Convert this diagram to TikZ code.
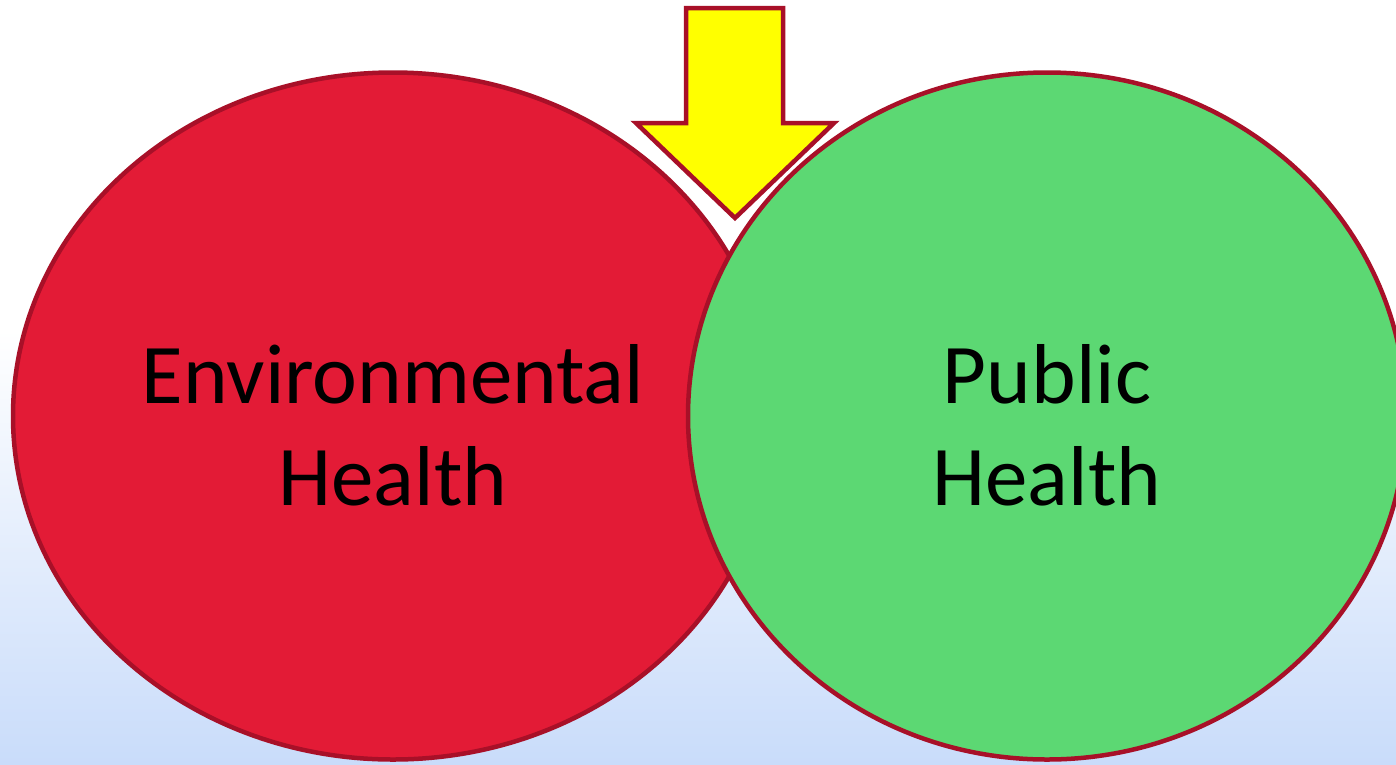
\documentclass[tikz,border=0pt]{standalone}
\usepackage{fontspec}
\setmainfont{Carlito}
\usetikzlibrary{shapes.geometric}
\definecolor{rimred}{RGB}{168,16,40}
\definecolor{envred}{RGB}{227,27,54}
\definecolor{pubgreen}{RGB}{92,216,115}
\definecolor{arrowyellow}{RGB}{255,255,0}
\definecolor{bgblue}{RGB}{201,220,250}
\tikzset{
  blob/.style={ellipse, draw=rimred, line width=4.5pt, inner sep=0pt},
  blobtext/.style={align=center, inner sep=0pt, font=\fontsize{85}{102}\selectfont, text=black},
}
\begin{document}
\begin{tikzpicture}[x=1pt,y=-1pt]
\useasboundingbox (0,0) rectangle (1396,764);
\fill[white] (0,0) rectangle (1396,331);
\shade[top color=white, bottom color=bgblue] (0,330) rectangle (1396,764);
\node[blob, fill=envred, minimum width=760pt, minimum height=687pt] (env) at (393,416) {};
\node[blob, fill=pubgreen, minimum width=718pt, minimum height=687pt] (pub) at (1047,416) {};
\node[blobtext] (envtext) at ([yshift=-9pt]env.center) {Environmental\\Health};
\node[blobtext] (pubtext) at ([yshift=-9pt]pub.center) {Public\\Health};
\draw[draw=rimred, fill=arrowyellow, line width=4.5pt, line join=miter]
  (686,8) -- (783,8) -- (783,123) -- (834,123) -- (735,218) -- (636,123) -- (686,123) -- cycle;
\end{tikzpicture}
\end{document}
